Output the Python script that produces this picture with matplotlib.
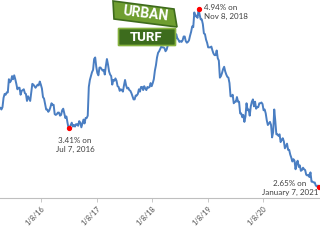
import numpy as np
import pandas as pd
import matplotlib
matplotlib.use('Agg')
import matplotlib.pyplot as plt
from matplotlib.patches import Polygon, FancyBboxPatch

# weekly 30-year fixed rate (%), Apr 2015 .. Jan 7 2021
r2015 = [3.67, 3.65, 3.68,
         3.80, 3.85, 3.84, 3.87,
         3.87, 4.04, 4.00, 4.02,
         4.08, 4.04, 4.09, 4.04, 3.98,
         3.91, 3.93, 3.93, 3.84,
         3.89, 3.90, 3.91, 3.86,
         3.85, 3.76, 3.82, 3.79, 3.76,
         3.87, 3.98, 3.97, 3.95,
         3.93, 3.95, 3.97, 3.96, 4.01]
r2016 = [3.97, 3.92, 3.81, 3.79,
         3.72, 3.65, 3.65, 3.62,
         3.64, 3.68, 3.73, 3.71, 3.71,
         3.59, 3.58, 3.59, 3.61,
         3.61, 3.57, 3.58, 3.64,
         3.66, 3.60, 3.54, 3.56, 3.48,
         3.41, 3.42, 3.45, 3.48,
         3.43, 3.45, 3.43, 3.46,
         3.46, 3.44, 3.50, 3.48, 3.42,
         3.47, 3.52, 3.47, 3.54,
         3.54, 3.57, 3.94, 4.03,
         4.08, 4.13, 4.16, 4.30, 4.32]
r2017 = [4.20, 4.12, 4.09, 4.19,
         4.19, 4.17, 4.15, 4.16,
         4.10, 4.21, 4.30, 4.23, 4.14,
         4.10, 4.08, 3.97, 4.03,
         4.02, 4.05, 4.02, 3.95,
         3.94, 3.89, 3.91, 3.90, 3.88,
         3.96, 4.03, 3.96, 3.92,
         3.93, 3.90, 3.89, 3.86, 3.82,
         3.78, 3.78, 3.83, 3.83,
         3.85, 3.91, 3.88, 3.94,
         3.94, 3.90, 3.95, 3.92, 3.90,
         3.94, 3.93, 3.94, 3.99]
r2018 = [3.95, 3.99, 4.04, 4.15,
         4.22, 4.32, 4.38, 4.40,
         4.43, 4.46, 4.45, 4.45, 4.44,
         4.40, 4.42, 4.47, 4.58,
         4.55, 4.55, 4.61, 4.66, 4.56,
         4.54, 4.62, 4.57, 4.55,
         4.52, 4.53, 4.52, 4.54,
         4.59, 4.59, 4.53, 4.51, 4.52,
         4.54, 4.60, 4.65, 4.72,
         4.71, 4.90, 4.85, 4.86,
         4.83, 4.94, 4.87, 4.81, 4.81,
         4.75, 4.63, 4.62, 4.55]
r2019 = [4.51, 4.45, 4.45, 4.45, 4.46,
         4.41, 4.37, 4.35, 4.35,
         4.41, 4.31, 4.28, 4.06,
         4.08, 4.12, 4.17, 4.20,
         4.14, 4.10, 4.07, 4.06, 3.99,
         3.82, 3.82, 3.84, 3.73,
         3.75, 3.75, 3.81, 3.75,
         3.75, 3.60, 3.60, 3.55, 3.58,
         3.49, 3.56, 3.73, 3.64,
         3.65, 3.57, 3.69, 3.75, 3.78,
         3.69, 3.75, 3.66, 3.68,
         3.68, 3.73, 3.73, 3.74]
r2020 = [3.72, 3.64, 3.65, 3.60, 3.51,
         3.45, 3.47, 3.49, 3.45,
         3.29, 3.36, 3.65, 3.50,
         3.33, 3.33, 3.31, 3.33, 3.23,
         3.26, 3.28, 3.24, 3.15,
         3.18, 3.21, 3.13, 3.13,
         3.07, 3.03, 2.98, 3.01, 2.99,
         2.88, 2.96, 2.99, 2.91,
         2.93, 2.86, 2.87, 2.90,
         2.88, 2.87, 2.81, 2.80, 2.81,
         2.78, 2.84, 2.72, 2.72,
         2.71, 2.71, 2.67, 2.66, 2.67]
r2021 = [2.65]

rates = np.array(r2015 + r2016 + r2017 + r2018 + r2019 + r2020 + r2021)
dates = pd.date_range(end='2021-01-07', periods=len(rates), freq='7D')

hilite_dates = ['2016-07-07', '2018-11-08', '2021-01-07']
hilite_text = ['3.41% on\nJul 7, 2016', '4.94% on\nNov 8, 2018', '2.65% on\nJanuary 7, 2021']

tick_dates = ['2016-01-08', '2017-01-08', '2018-01-08', '2019-01-08', '2020-01-08']
tick_labels = ['1/8/16', '1/8/17', '1/8/18', '1/8/19', '1/8/20']

fig = plt.figure(figsize=(3.2, 2.4), dpi=100)
ax = fig.add_axes([0, 42 / 240, 1, 198 / 240])

ax.plot(dates, rates, color='#4a7ec2', linewidth=1.4)

idx = [np.where(dates == pd.Timestamp(d))[0][0] for d in hilite_dates]
ax.plot(dates[idx], rates[idx], 'o', color='red', markersize=2.8, zorder=5)

# x scale: 1/8/16 at px 41, 1/7/21 at px 319
t0 = pd.Timestamp('2016-01-08')
ppd = (319 - 41) / (pd.Timestamp('2021-01-07') - t0).days
x0 = t0 - pd.Timedelta(days=41 / ppd)
x1 = x0 + pd.Timedelta(days=320 / ppd)
ax.set_xlim(x0, x1)
ax.set_ylim(2.51, 5.06)

ax.set_xticks(pd.to_datetime(tick_dates))
ax.set_xticklabels(tick_labels, rotation=45, ha='right', va='top',
                   rotation_mode='anchor', fontsize=5.3, color='#4d4d4d',
                   family='Lato')
ax.tick_params(axis='x', length=3, width=0.6, color='#bfbfbf', pad=2)
ax.set_yticks([])
for s in ['left', 'right', 'top']:
    ax.spines[s].set_visible(False)
ax.spines['bottom'].set_color('#bfbfbf')
ax.spines['bottom'].set_linewidth(0.8)

# overlay in pixel coordinates for labels and logo
ov = fig.add_axes([0, 0, 1, 1], zorder=10)
ov.set_xlim(0, 320)
ov.set_ylim(240, 0)
ov.axis('off')
ov.patch.set_alpha(0)

txt = dict(fontsize=5.8, color='#404040', family='Lato', linespacing=1.35)
ov.text(75, 145, hilite_text[0], ha='center', va='center', **txt)
ov.text(204, 12, hilite_text[1], ha='left', va='center', **txt)
ov.text(290, 188, hilite_text[2], ha='center', va='center', **txt)

# Urban Turf sign
ov.add_patch(Polygon([(113, 1), (174, 9), (177, 27), (114, 19)], closed=True,
                     facecolor='#6f9e30', edgecolor='#3e6b1c', linewidth=1.2))
ov.text(145, 14, 'URBAN', ha='center', va='center', rotation=-7,
        fontsize=10, fontweight='bold', color='white', family='Roboto')
ov.add_patch(FancyBboxPatch((119, 29), 56, 16, boxstyle='round,pad=0.5',
                            facecolor='#3d6c1d', edgecolor='#86b23f', linewidth=1.2))
ov.text(146, 37.5, 'TURF', ha='center', va='center',
        fontsize=9.5, fontweight='bold', color='white', family='Roboto')

fig.savefig('out.png', dpi=100)
